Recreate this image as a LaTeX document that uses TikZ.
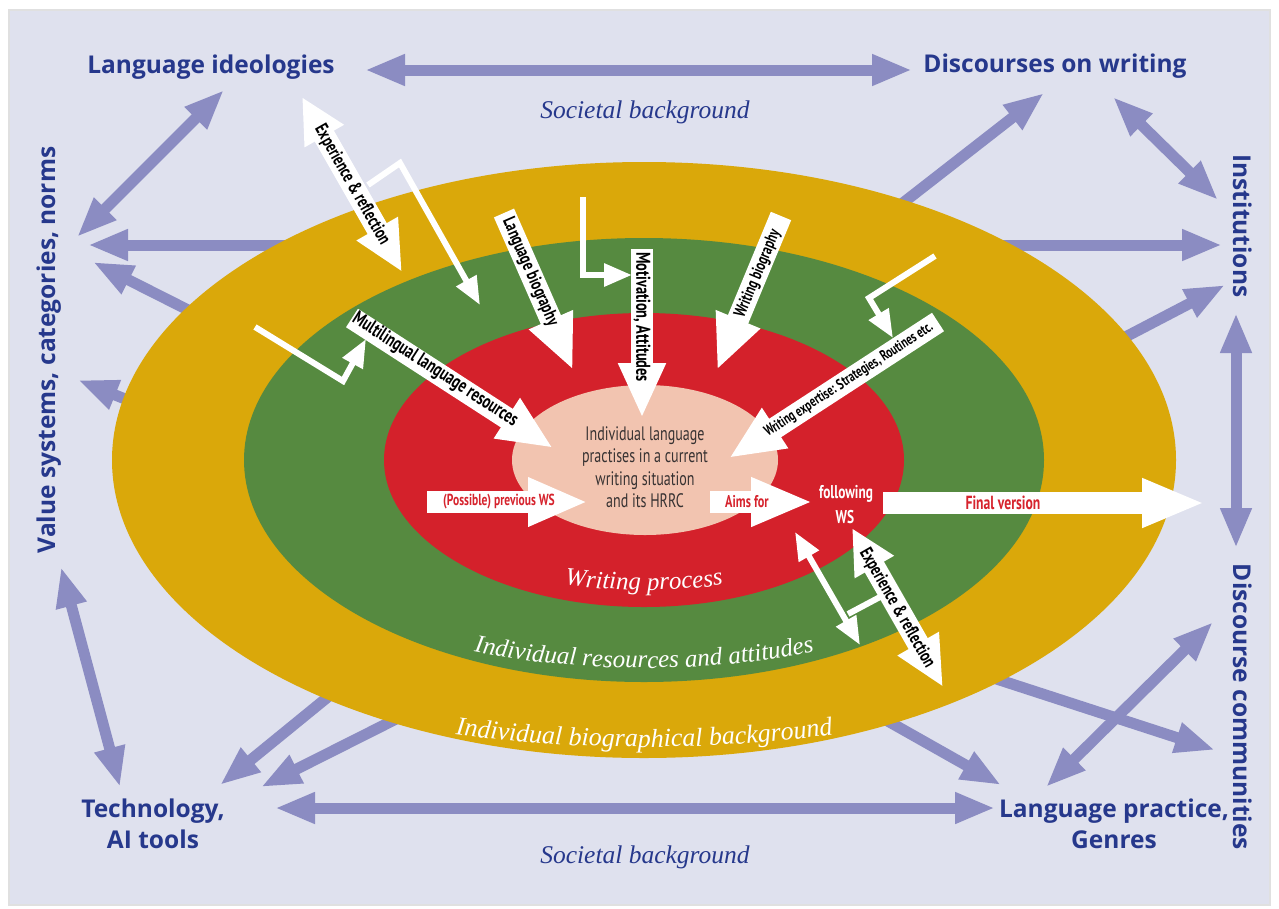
\documentclass[tikz,border=0pt]{standalone}
\usepackage{fontspec}
\usetikzlibrary{arrows.meta,decorations.text}
\newfontfamily\lblfont{Open Sans}
\newfontfamily\condfont[FakeStretch=0.72]{PT Sans}
\newfontfamily\itfont{Liberation Serif}
\definecolor{bgl}{RGB}{223,225,238}
\definecolor{purp}{RGB}{139,140,194}
\definecolor{navy}{RGB}{38,56,140}
\definecolor{gold}{RGB}{218,168,10}
\definecolor{grn}{RGB}{86,138,64}
\definecolor{rd}{RGB}{212,33,43}
\definecolor{pinkc}{RGB}{242,196,176}
\definecolor{txtred}{RGB}{214,35,45}
\definecolor{coretxt}{RGB}{55,50,50}
\begin{document}
\begin{tikzpicture}[x=1pt,y=-1pt,
 parrow/.style={draw=purp, line width=11pt, -{Triangle[length=40pt,width=29pt]}},
 pdouble/.style={draw=purp, line width=11pt, {Triangle[length=40pt,width=29pt]}-{Triangle[length=40pt,width=29pt]}},
 warrow/.style={draw=white, line width=22pt, -{Triangle[length=55pt,width=44pt]}},
 wdouble/.style={draw=white, line width=22pt, {Triangle[length=45pt,width=42pt]}-{Triangle[length=50pt,width=44pt]}},
 wthin/.style={draw=white, line width=6pt, -{Triangle[length=28pt,width=22pt]}},
 wthindouble/.style={draw=white, line width=6pt, {Triangle[length=28pt,width=22pt]}-{Triangle[length=28pt,width=22pt]}},
 wbar/.style={draw=white, line width=6pt},
 biglabel/.style={text=navy, font=\lblfont\bfseries\fontsize{24.5}{30}\selectfont, inner sep=0pt},
 soclabel/.style={text=navy, font=\itfont\itshape\fontsize{25.5}{25}\selectfont, inner sep=0pt},
 arrowtext/.style={text=black, font=\condfont\bfseries\fontsize{18.5}{18}\selectfont, inner sep=0pt},
 redtext/.style={text=txtred, font=\condfont\bfseries\fontsize{16}{16}\selectfont, inner sep=0pt},
 coretext/.style={text=coretxt, font=\condfont\fontsize{19.5}{22.5}\selectfont, inner sep=0pt, align=center},
 wstext/.style={text=white, font=\condfont\bfseries\fontsize{18.5}{18}\selectfont, inner sep=0pt},
]
\useasboundingbox (0,0) rectangle (1279,908);
\fill[white] (0,0) rectangle (1279,908);
\fill[bgl, draw=black!12, line width=1.5pt] (9,10) rectangle (1270,905);

% ---------- labels ----------
\node[biglabel, anchor=base] (ideo) at (211,73) {Language ideologies};
\node[biglabel, anchor=base] (disc) at (1055,72) {Discourses on writing};
\node[biglabel, anchor=base, rotate=90] (vals) at (55,350) {Value systems, categories, norms};
\node[biglabel, anchor=base, rotate=-90] (inst) at (1233,226) {Institutions};
\node[biglabel, anchor=base, rotate=-90] (dcom) at (1233,707) {Discourse communities};
\node[biglabel, anchor=base] (tech1) at (153,817) {Technology,};
\node[biglabel, anchor=base] (tech2) at (153,848) {AI tools};
\node[biglabel, anchor=base] (lang1) at (1114,817) {Language practice,};
\node[biglabel, anchor=base] (lang2) at (1114,848) {Genres};
\node[soclabel, anchor=base] (soctop) at (645,118) {Societal background};
\node[soclabel, anchor=base] (socbot) at (645,863) {Societal background};

% ---------- purple arrows ----------
\coordinate (p1a) at (365,70);  \coordinate (p1b) at (912,70);
\coordinate (p2a) at (275,808); \coordinate (p2b) at (995,808);
\coordinate (p3a) at (224,90);  \coordinate (p3b) at (77,237);
\coordinate (p4a) at (300,245); \coordinate (p4b) at (88,245);
\coordinate (p5a) at (200,316); \coordinate (p5b) at (93,262);
\coordinate (p6a) at (140,405); \coordinate (p6b) at (78,380);
\coordinate (p7a) at (61,567);  \coordinate (p7b) at (120,787);
\coordinate (p8a) at (345,683); \coordinate (p8b) at (220,785);
\coordinate (p9a) at (410,712); \coordinate (p9b) at (261,787);
\coordinate (p10a) at (870,711); \coordinate (p10b) at (1001,785);
\coordinate (p11a) at (975,672); \coordinate (p11b) at (1215,750);
\coordinate (p12a) at (1046,787); \coordinate (p12b) at (1213,622);
\coordinate (p13a) at (1236,313); \coordinate (p13b) at (1236,548);
\coordinate (p14a) at (1113,97); \coordinate (p14b) at (1218,200);
\coordinate (p15a) at (890,213); \coordinate (p15b) at (1044,93);
\coordinate (p16a) at (1000,245); \coordinate (p16b) at (1222,245);
\coordinate (p17a) at (1110,345); \coordinate (p17b) at (1225,285);
\draw[pdouble] (p1a) -- (p1b);
\draw[pdouble] (p2a) -- (p2b);
\draw[pdouble] (p3a) -- (p3b);
\draw[parrow] (p4a) -- (p4b);
\draw[parrow] (p5a) -- (p5b);
\draw[parrow] (p6a) -- (p6b);
\draw[pdouble] (p7a) -- (p7b);
\draw[parrow] (p8a) -- (p8b);
\draw[parrow] (p9a) -- (p9b);
\draw[parrow] (p10a) -- (p10b);
\draw[parrow] (p11a) -- (p11b);
\draw[pdouble] (p12a) -- (p12b);
\draw[pdouble] (p13a) -- (p13b);
\draw[pdouble] (p14a) -- (p14b);
\draw[parrow] (p15a) -- (p15b);
\draw[parrow] (p16a) -- (p16b);
\draw[parrow] (p17a) -- (p17b);

% ---------- ellipses ----------
\fill[gold] (644,460) ellipse [x radius=532, y radius=298];
\fill[grn] (644,460) ellipse [x radius=400, y radius=222];
\fill[rd] (644,460) ellipse [x radius=260, y radius=147];
\fill[pinkc] (645,460) ellipse [x radius=133, y radius=75];

\path[decorate, decoration={text along path, text align=center,
  text={|\itfont\itshape\fontsize{26}{26}\selectfont\color{white}|Individual biographical background}}]
  (644,460) ++(130:650 and 287) arc[start angle=130, end angle=50, x radius=650, y radius=287];
\path[decorate, decoration={text along path, text align=center,
  text={|\itfont\itshape\fontsize{25}{25}\selectfont\color{white}|Individual resources and attitudes}}]
  (644,460) ++(125:440 and 208) arc[start angle=125, end angle=55, x radius=440, y radius=208];
\path[decorate, decoration={text along path, text align=center,
  text={|\itfont\itshape\fontsize{25}{25}\selectfont\color{white}|Writing process}}]
  (644,460) ++(120:280 and 130) arc[start angle=120, end angle=60, x radius=280, y radius=130];

\node[coretext] (core) at (645,467) {Individual language\\practises in a current\\writing situation\\and its HRRC};

% ---------- white arrows ----------
\coordinate (erAa) at (302,97);  \coordinate (erAb) at (402,272);
\coordinate (erBa) at (852,528); \coordinate (erBb) at (943,687);
\coordinate (lbT) at (504,213);  \coordinate (lbH) at (573,370);
\coordinate (moT) at (642,249);  \coordinate (moH) at (642,418);
\coordinate (wbT) at (781,216);  \coordinate (wbH) at (717,370);
\coordinate (weT) at (938,322);  \coordinate (weH) at (729,458);
\coordinate (mlT) at (352,318);  \coordinate (mlH) at (553,448);
\coordinate (pvT) at (427,502);  \coordinate (pvH) at (588,502);
\coordinate (afT) at (710,502);  \coordinate (afH) at (813,502);
\coordinate (fvT) at (883,503);  \coordinate (fvH) at (1205,503);
\draw[wdouble] (erAa) -- (erAb);
\draw[wdouble] (erBa) -- (erBb);
\draw[warrow] (lbT) -- (lbH);
\draw[warrow] (moT) -- (moH);
\draw[warrow] (wbT) -- (wbH);
\draw[warrow] (weT) -- (weH);
\draw[warrow] (mlT) -- (mlH);
\draw[warrow, -{Triangle[length=60pt,width=45pt]}] (pvT) -- (pvH);
\draw[warrow, -{Triangle[length=62pt,width=45pt]}] (afT) -- (afH);
\draw[warrow, -{Triangle[length=63pt,width=45pt]}] (fvT) -- (fvH);

% thin connectors
\coordinate (l1a) at (368,185); \coordinate (l1b) at (400,163); \coordinate (l1c) at (480,305);
\coordinate (l2a) at (583,197); \coordinate (l2b) at (583,275); \coordinate (l2c) at (632,275);
\coordinate (l3a) at (935,256); \coordinate (l3b) at (869,298); \coordinate (l3c) at (893,338);
\coordinate (l4a) at (255,327); \coordinate (l4b) at (343,381); \coordinate (l4c) at (366,339);
\coordinate (k2a) at (795,532); \coordinate (k2b) at (860,645);
\coordinate (bara) at (848,614); \coordinate (barb) at (880,597);
\draw[wthin] (l1a) -- (l1b) -- (l1c);
\draw[wthin] (l2a) -- (l2b) -- (l2c);
\draw[wthin] (l3a) -- (l3b) -- (l3c);
\draw[wthin] (l4a) -- (l4b) -- (l4c);
\draw[wthindouble] (k2a) -- (k2b);
\draw[wbar] (bara) -- (barb);

% ---------- arrow texts ----------
\node[arrowtext, rotate=-60.3] (erAt) at (352,185) {Experience \& reflection};
\node[arrowtext, rotate=-60.2] (erBt) at (897,608) {Experience \& reflection};
\node[arrowtext, rotate=-66.4] (lbt) at (530,272) {Language biography};
\node[arrowtext, rotate=-90, font=\condfont\bfseries\fontsize{20}{20}\selectfont] (mot) at (642,317) {Motivation, Attitudes};
\node[arrowtext, rotate=67.3, font=\condfont\bfseries\fontsize{17}{17}\selectfont] (wbt) at (758,274) {Writing biography};
\node[arrowtext, rotate=33, font=\condfont\bfseries\fontsize{15}{15}\selectfont] (wet) at (849,380) {Writing expertise: Strategies, Routines etc.};
\node[arrowtext, rotate=-32.9, font=\condfont\bfseries\fontsize{19.5}{19}\selectfont] (mlt) at (435,370) {Multilingual language resources};
\node[redtext] (pvt) at (499,502) {(Possible) previous WS};
\node[redtext, font=\condfont\bfseries\fontsize{17}{17}\selectfont] (aft) at (747,502) {Aims for};
\node[redtext, font=\condfont\bfseries\fontsize{19}{19}\selectfont] (fvt) at (1003,503) {Final version};
\node[wstext] (ws1) at (846,494) {following};
\node[wstext] (ws2) at (845,517) {WS};
\end{tikzpicture}
\end{document}
